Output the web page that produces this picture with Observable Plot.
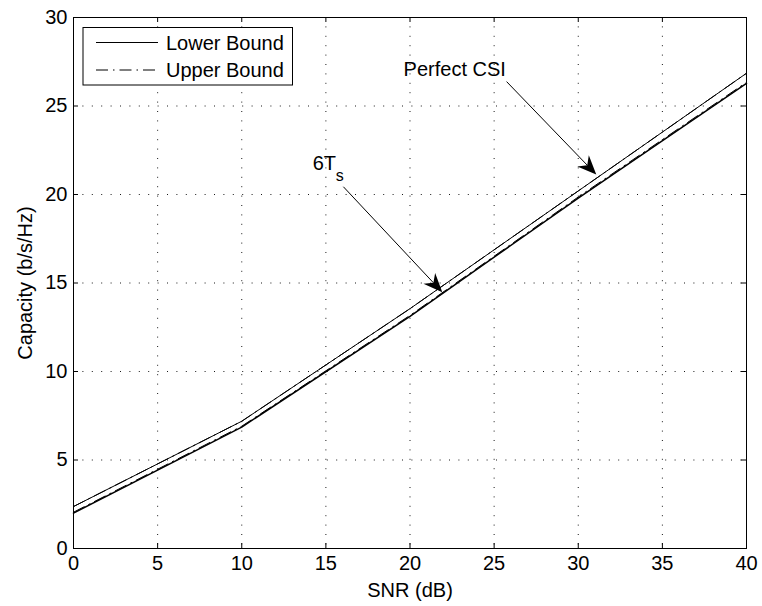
<!DOCTYPE html>
<html><head><meta charset="utf-8">
<script src="https://cdn.jsdelivr.net/npm/d3@7"></script>
<script src="https://cdn.jsdelivr.net/npm/@observablehq/plot@0.6"></script>
<style>
body{margin:0;background:#fff}
#chart svg{font-family:"Liberation Sans",Arial,Helvetica,sans-serif;}
</style>
</head><body><div id="chart"></div>
<script>
// ---- data ----
const snr = [0, 10, 20, 30, 40];
const perfectLower = [2.37, 7.19, 13.55, 20.2, 26.85];
const perfectUpper = [2.37, 7.19, 13.55, 20.2, 26.85];
const sixTsLower   = [2.0, 6.86, 13.12, 19.8, 26.28];
const sixTsUpper   = [2.05, 6.91, 13.17, 19.86, 26.34];
const xTicks = [0, 5, 10, 15, 20, 25, 30, 35, 40];
const yTicks = [0, 5, 10, 15, 20, 25, 30];
const legendLabels = ["Lower Bound", "Upper Bound"];
const annoLabels = ["Perfect CSI", "6T"];
const annoSubs = ["", "s"];
const annoTextX = [19.62, 14.22];
const annoTextY = [26.68, 21.4];
const arrowFromX = [25.77, 16.07];
const arrowFromY = [26.35, 20.41];
const arrowToX = [31.1, 21.95];
const arrowToY = [21.1, 14.45];

const dashDot = "12,5,1.5,5";

const rows = (xs, ys, curve, bound) => xs.map((x, i) => ({snr: x, cap: ys[i], curve, bound}));
const lines = [
  ...rows(snr, perfectLower, "perfect", "Lower Bound"),
  ...rows(snr, perfectUpper, "perfect", "Upper Bound"),
  ...rows(snr, sixTsLower, "6Ts", "Lower Bound"),
  ...rows(snr, sixTsUpper, "6Ts", "Upper Bound")
];
const annos = annoLabels.map((t, i) => ({t, sub: annoSubs[i], x: annoTextX[i], y: annoTextY[i],
  x1: arrowFromX[i], y1: arrowFromY[i], x2: arrowToX[i], y2: arrowToY[i]}));

const W = 762, H = 606, mL = 73, mR = 16, mT = 17, mB = 58;
const innerH = H - mT - mB, innerW = W - mL - mR;
const tickLen = 5;

function arrows(index, scales) {
  const g = d3.create("svg:g");
  for (const a of annos) {
    const X1 = scales.x(a.x1), Y1 = scales.y(a.y1), X2 = scales.x(a.x2), Y2 = scales.y(a.y2);
    const ang = Math.atan2(Y2 - Y1, X2 - X1);
    const c = Math.cos(ang), s = Math.sin(ang);
    const L = 19, hw = 8, notch = 6;
    const bx = X2 - L * c, by = Y2 - L * s;
    const nx = X2 - (L - notch) * c, ny = Y2 - (L - notch) * s;
    g.append("line").attr("x1", X1).attr("y1", Y1).attr("x2", nx).attr("y2", ny)
      .attr("stroke", "black").attr("stroke-width", 1);
    const pts = [[X2, Y2], [bx - hw * s, by + hw * c], [nx, ny], [bx + hw * s, by - hw * c]];
    g.append("path").attr("d", "M" + pts.map(p => p.join(",")).join("L") + "Z").attr("fill", "black");
  }
  return g.node();
}

function legend(index, scales, values, dims) {
  const g = d3.create("svg:g");
  const x0 = dims.marginLeft + 10, y0 = dims.marginTop + 10.5;
  g.append("rect").attr("x", x0).attr("y", y0).attr("width", 209.5).attr("height", 57.5)
    .attr("fill", "white").attr("stroke", "black").attr("stroke-width", 1);
  legendLabels.forEach((lab, i) => {
    const yy = y0 + 15 + i * 27.5;
    g.append("line").attr("x1", x0 + 13).attr("x2", x0 + 75).attr("y1", yy).attr("y2", yy)
      .attr("stroke", "black").attr("stroke-width", 1)
      .attr("stroke-dasharray", i === 1 ? dashDot : null);
    g.append("text").attr("x", x0 + 83).attr("y", yy).attr("dy", "0.35em")
      .attr("text-anchor", "start")
      .attr("font-size", 20).attr("fill", "black").text(lab);
  });
  return g.node();
}

const chart = Plot.plot({
  width: W, height: H,
  marginLeft: mL, marginRight: mR, marginTop: mT, marginBottom: mB,
  style: {fontSize: "20px", fontFamily: "'Liberation Sans', Arial, sans-serif", color: "black", background: "white"},
  x: {domain: [0, 40]},
  y: {domain: [0, 30]},
  marks: [
    Plot.ruleX(xTicks.slice(1, -1), {stroke: "black", strokeWidth: 1, strokeDasharray: "1,8.4", strokeOpacity: 0.9}),
    Plot.ruleY(yTicks.slice(1, -1), {stroke: "black", strokeWidth: 1, strokeDasharray: "1,8.4", strokeOpacity: 0.9}),
    Plot.tickX(xTicks, {stroke: "black", insetTop: innerH - tickLen}),
    Plot.tickX(xTicks, {stroke: "black", insetBottom: innerH - tickLen}),
    Plot.tickY(yTicks, {stroke: "black", insetRight: innerW - tickLen}),
    Plot.tickY(yTicks, {stroke: "black", insetLeft: innerW - tickLen}),
    Plot.line(lines.filter(d => d.bound === "Lower Bound" && d.curve === "perfect"), {x: "snr", y: "cap", stroke: "black", strokeWidth: 1}),
    Plot.line(lines.filter(d => d.bound === "Lower Bound" && d.curve === "6Ts"), {x: "snr", y: "cap", stroke: "black", strokeWidth: 1.5}),
    Plot.line(lines.filter(d => d.bound === "Upper Bound"), {x: "snr", y: "cap", z: "curve", stroke: "black", strokeWidth: 1, strokeDasharray: dashDot}),
    Plot.frame({stroke: "black", strokeWidth: 1}),
    Plot.axisX(xTicks, {tickSize: 0, tickPadding: 7, fontSize: 20, label: "SNR (dB)", labelArrow: "none", labelAnchor: "center", labelOffset: 48}),
    Plot.axisY(yTicks, {tickSize: 0, tickPadding: 6, fontSize: 20, label: "Capacity (b/s/Hz)", labelArrow: "none", labelAnchor: "center", labelOffset: 56}),
    Plot.text(annos, {x: "x", y: "y", text: "t", textAnchor: "start", lineAnchor: "bottom", fontSize: 20, fill: "black"}),
    Plot.text(annos.filter(d => d.sub), {x: "x", y: "y", text: "sub", textAnchor: "start", lineAnchor: "bottom", fontSize: 16, fill: "black", dx: 23, dy: 11}),
    arrows,
    legend
  ]
});
document.getElementById("chart").append(chart);
</script>
</body></html>
